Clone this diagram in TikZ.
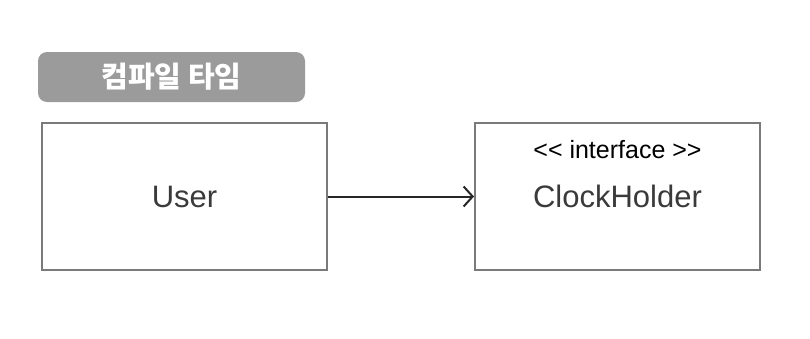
\documentclass[tikz,border=0pt]{standalone}
\usepackage{fontspec}
\setmainfont{Liberation Sans}
\newfontfamily\kofont{Noto Sans CJK KR}
\usetikzlibrary{positioning, arrows.meta}

\definecolor{boxline}{HTML}{7A7A7A}
\definecolor{tagfill}{HTML}{9B9B9B}
\definecolor{ink}{HTML}{3A3A3A}

\begin{document}
\begin{tikzpicture}[x=1pt,y=-1pt,node distance=433pt,on grid,
    cls/.style={draw=boxline,line width=2pt,minimum width=285pt,minimum height=147pt,inner sep=0pt,text=ink,font=\fontsize{31}{34}\selectfont},
    tag/.style={fill=tagfill,rounded corners=9pt,minimum width=267pt,minimum height=50pt,inner sep=0pt,text=white,font=\kofont\bfseries\fontsize{29}{32}\selectfont}]
	\useasboundingbox (0,0) rectangle (810,338);
	\node[cls] (user) at (184.5,196.5) {User};
	\node[cls] (holder) [right=of user] {};
	\node[font=\fontsize{25}{28}\selectfont] (stereo) at ([yshift=47pt]holder.center) {{<}{<} interface {>}{>}};
	\node[text=ink,font=\fontsize{31}{34}\selectfont] (name) at (holder.center) {ClockHolder};
	\node[tag] (phase) at (171.5,77) {컴파일 타임};
	\path[-{Straight Barb[length=9pt,width=20pt,line width=2pt]}] (user) edge[line width=2pt,draw=black!85] (holder);
\end{tikzpicture}
\end{document}
